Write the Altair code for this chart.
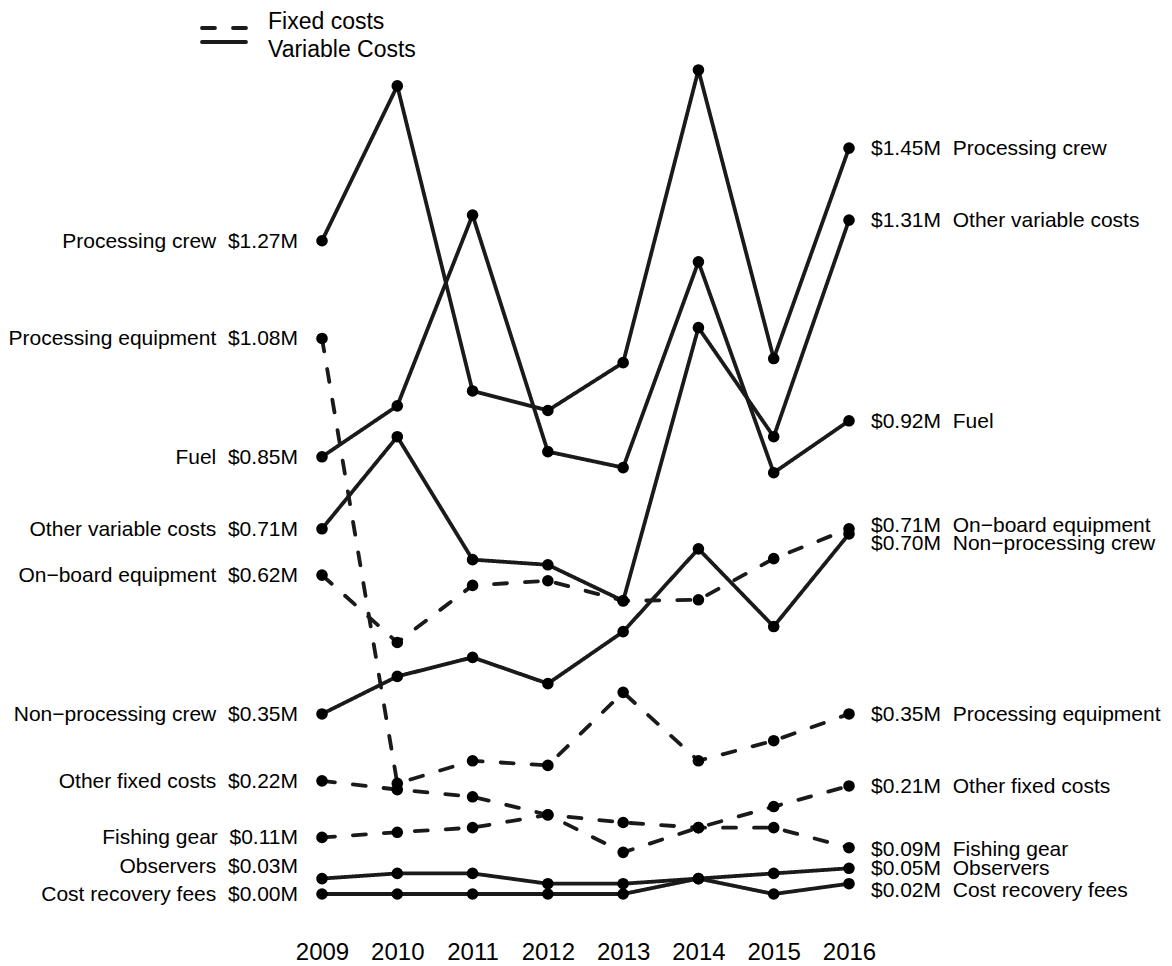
import altair as alt
import pandas as pd

# ---------------- data ----------------
years = [2009, 2010, 2011, 2012, 2013, 2014, 2015, 2016]

series_names = [
    "Processing crew",
    "Fuel",
    "Other variable costs",
    "Non\u2212processing crew",
    "Observers",
    "Cost recovery fees",
    "Processing equipment",
    "On\u2212board equipment",
    "Other fixed costs",
    "Fishing gear",
]
series_types = ["Variable Costs"] * 6 + ["Fixed costs"] * 4

processing_crew      = [1.27, 1.571, 0.978, 0.940, 1.033, 1.602, 1.041, 1.45]
fuel                 = [0.85, 0.949, 1.320, 0.860, 0.829, 1.229, 0.819, 0.92]
other_variable_costs = [0.71, 0.889, 0.650, 0.640, 0.570, 1.101, 0.889, 1.31]
non_processing_crew  = [0.35, 0.423, 0.460, 0.409, 0.510, 0.671, 0.520, 0.70]
observers            = [0.03, 0.040, 0.040, 0.020, 0.020, 0.030, 0.040, 0.05]
cost_recovery_fees   = [0.00, 0.000, 0.000, 0.000, 0.000, 0.030, 0.000, 0.02]
processing_equipment = [1.08, 0.215, 0.259, 0.250, 0.392, 0.259, 0.298, 0.35]
onboard_equipment    = [0.62, 0.489, 0.600, 0.609, 0.570, 0.572, 0.652, 0.71]
other_fixed_costs    = [0.22, 0.203, 0.189, 0.154, 0.081, 0.129, 0.170, 0.21]
fishing_gear         = [0.11, 0.120, 0.129, 0.154, 0.139, 0.129, 0.129, 0.09]

series_values = [
    processing_crew, fuel, other_variable_costs, non_processing_crew,
    observers, cost_recovery_fees, processing_equipment, onboard_equipment,
    other_fixed_costs, fishing_gear,
]

legend_labels = ["Fixed costs", "Variable Costs"]

# label nudges (pixels) to keep end labels from overlapping
left_nudge_px = {"Observers": -13}
right_nudge_px = {
    "On\u2212board equipment": -3.5,
    "Non\u2212processing crew": 9.5,
    "Fishing gear": 1.5,
    "Cost recovery fees": 6,
}

# ---------------- layout ----------------
W, H = 527, 823
YMAX = 1.6
PX_PER_UNIT = H / YMAX
FONT = "Liberation Sans, Arial, Helvetica, sans-serif"
INK = "#1a1a1a"
SP = "\u00a0\u00a0"

rows = []
for name, typ, vals in zip(series_names, series_types, series_values):
    for yr, v in zip(years, vals):
        rows.append({"name": name, "type": typ, "year": yr, "value": v})
df = pd.DataFrame(rows)

left_rows, right_rows = [], []
for name, vals in zip(series_names, series_values):
    v0, v1 = vals[0], vals[-1]
    left_rows.append({
        "name": name, "year": years[0],
        "text": f"{name}{SP}${v0:.2f}M",
        "label_y": v0 - left_nudge_px.get(name, 0) / PX_PER_UNIT,
    })
    right_rows.append({
        "name": name, "year": years[-1],
        "text": f"${v1:.2f}M{SP}{name}",
        "label_y": v1 - right_nudge_px.get(name, 0) / PX_PER_UNIT,
    })
left_df = pd.DataFrame(left_rows)
right_df = pd.DataFrame(right_rows)
legend_df = pd.DataFrame({"type": legend_labels, "label": legend_labels})

xscale = alt.Scale(domain=[years[0], years[-1]], nice=False, zero=False)
yscale = alt.Scale(domain=[0, YMAX], nice=False, zero=True)
xaxis = alt.Axis(
    values=years, format="d", domain=False, ticks=False, grid=False,
    labelFontSize=24, labelPadding=46, labelColor="black", labelFont=FONT,
    labelFlush=False, labelOverlap=False, title=None,
)
dash_scale = alt.Scale(domain=legend_labels, range=[[13, 18], [1, 0]])

X = alt.X("year:Q", scale=xscale, axis=xaxis)

lines = alt.Chart(df).mark_line(
    color=INK, strokeWidth=3.8, strokeCap="round", strokeJoin="round"
).encode(
    x=X,
    y=alt.Y("value:Q", scale=yscale, axis=None),
    detail="name:N",
    strokeDash=alt.StrokeDash("type:N", scale=dash_scale, legend=None),
)

points = alt.Chart(df).mark_circle(color="black", opacity=1, size=135).encode(
    x=X,
    y=alt.Y("value:Q", scale=yscale, axis=None),
)

left_text = alt.Chart(left_df).mark_text(
    align="right", baseline="middle", dx=-24, dy=1, fontSize=21, font=FONT, color="black"
).encode(
    x=X,
    y=alt.Y("label_y:Q", scale=yscale, axis=None),
    text="text:N",
)

right_text = alt.Chart(right_df).mark_text(
    align="left", baseline="middle", dx=22, dy=1, fontSize=21, font=FONT, color="black"
).encode(
    x=X,
    y=alt.Y("label_y:Q", scale=yscale, axis=None),
    text="text:N",
)

leg_y = alt.Y("label:N", scale=alt.Scale(domain=legend_labels, range=[-50, -22], padding=0), axis=None)

legend_rules = alt.Chart(legend_df).mark_rule(
    color=INK, strokeWidth=3.8, strokeCap="round"
).encode(
    x=alt.value(-120),
    x2=alt.value(-76),
    y=leg_y,
    strokeDash=alt.StrokeDash("type:N", scale=dash_scale, legend=None),
)

legend_text = alt.Chart(legend_df).mark_text(
    align="left", baseline="middle", dy=1, fontSize=23, font=FONT, color="black"
).encode(
    x=alt.value(-54),
    y=leg_y,
    text="label:N",
)

chart = alt.layer(
    lines, points, left_text, right_text, legend_rules, legend_text
).resolve_scale(
    y="independent"
).properties(
    width=W, height=H,
    padding={"left": 314, "top": 63, "right": 315, "bottom": 72},
    autosize=alt.AutoSizeParams(type="none"),
    background="white",
).configure_view(stroke=None)

chart.save("out.html", embed_options={"renderer": "svg", "actions": False})
